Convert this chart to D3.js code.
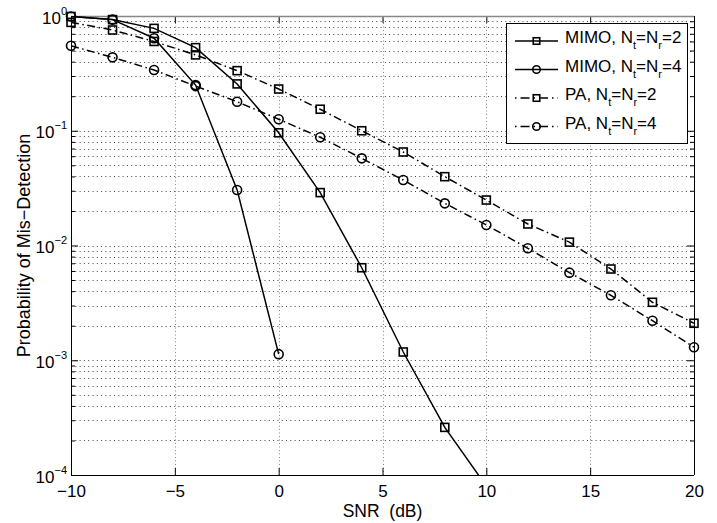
<!DOCTYPE html>
<html><head><meta charset="utf-8">
<script src="https://cdn.jsdelivr.net/npm/d3@7"></script>
<style>
html,body{margin:0;padding:0;background:#fff;}
text{font-family:"Liberation Sans",Arial,Helvetica,sans-serif;fill:#000;}
</style></head>
<body>
<svg id="chart" width="717" height="523"></svg>
<script>
const snr = [-10,-8,-6,-4,-2,0,2,4,6,8,10,12,14,16,18,20];
const mimo2 = [0.99,0.93,0.78,0.53,0.256,0.096,0.0289,0.0064,0.00118,0.00026,0.00008];
const mimo4 = [0.99,0.93,0.64,0.25,0.0305,0.00113];
const pa2 = [0.88,0.755,0.6,0.458,0.334,0.231,0.154,0.1,0.0653,0.0398,0.0249,0.0154,0.0107,0.00624,0.0032,0.0021];
const pa4 = [0.55,0.436,0.338,0.245,0.179,0.126,0.0877,0.0575,0.0372,0.0233,0.0151,0.00945,0.0058,0.00368,0.00221,0.0013];
const xTicks = [-10,-5,0,5,10,15,20];
const yExponents = [0,-1,-2,-3,-4];
const legendNames = ["MIMO","MIMO","PA","PA"];
const legendN = ["2","4","2","4"];
const xLabel = "SNR  (dB)";
const yLabel = "Probability of Mis\u2212Detection";

const svg = d3.select("#chart");
const m = {l:71,t:16,r:23,b:48};
const W = 717 - m.l - m.r, H = 523 - m.t - m.b;
const x = d3.scaleLinear().domain([-10,20]).range([0,W]);
const y = d3.scaleLog().domain([1e-4,1]).range([H,0]);
const g = svg.append("g").attr("transform",`translate(${m.l},${m.t})`);

const majors = yExponents.map(e=>Math.pow(10,e));
const minors = [];
for (let e=-4;e<0;e++) for (let k=2;k<=9;k++) minors.push(k*Math.pow(10,e));

// grid
g.append("g").selectAll("line").data(minors.concat(majors.filter(v=>v<1 && v>1e-4))).join("line")
  .attr("x1",0).attr("x2",W).attr("y1",d=>Math.round(y(d))+0.5).attr("y2",d=>Math.round(y(d))+0.5)
  .attr("stroke","#444").attr("stroke-width",1).attr("stroke-dasharray","1,3.3");
g.append("g").selectAll("line").data(xTicks.filter(v=>v>-10&&v<20)).join("line")
  .attr("y1",0).attr("y2",H).attr("x1",d=>Math.round(x(d))+0.5).attr("x2",d=>Math.round(x(d))+0.5)
  .attr("stroke","#888").attr("stroke-width",1).attr("stroke-dasharray","1,2.5");

// axes (ticks inward)
const fmtNone = ()=>"";
const bottom = g.append("g").attr("transform",`translate(0,${H})`)
  .call(d3.axisBottom(x).tickValues(xTicks).tickSizeInner(-7).tickSizeOuter(0).tickPadding(12)
    .tickFormat(d=> d<0 ? "\u2212"+Math.abs(d) : ""+d));
bottom.selectAll("text").attr("font-size","17px").attr("dy",null).attr("y",22);
g.append("g").call(d3.axisTop(x).tickValues(xTicks).tickSizeInner(-7).tickSizeOuter(0).tickFormat(fmtNone));
const left = g.append("g")
  .call(d3.axisLeft(y).tickValues(majors).tickSizeInner(-7).tickSizeOuter(0).tickPadding(4).tickFormat(fmtNone));
g.append("g").call(d3.axisLeft(y).tickValues(minors).tickSizeInner(-4).tickSizeOuter(0).tickFormat(fmtNone));
g.append("g").attr("transform",`translate(${W},0)`)
  .call(d3.axisRight(y).tickValues(majors).tickSizeInner(-7).tickSizeOuter(0).tickFormat(fmtNone));
g.append("g").attr("transform",`translate(${W},0)`)
  .call(d3.axisRight(y).tickValues(minors).tickSizeInner(-4).tickSizeOuter(0).tickFormat(fmtNone));
g.selectAll(".domain").remove();
g.selectAll(".tick line").attr("stroke","#000");

// y labels with superscripts
left.selectAll(".tick").each(function(d){
  const t = d3.select(this).append("text").attr("x",-4).attr("y",7).attr("text-anchor","end")
    .attr("font-size","17px").attr("fill","#000");
  const e = Math.round(Math.log10(d));
  t.append("tspan").text("10");
  t.append("tspan").attr("font-size","11px").attr("dy","-9").text(e<0? "\u2212"+Math.abs(e): ""+e);
});

// box
g.append("line").attr("x1",0).attr("x2",W).attr("y1",0.5).attr("y2",0.5).attr("stroke","#888").attr("stroke-width",1.5);
g.append("line").attr("x1",0).attr("x2",W).attr("y1",H+0.5).attr("y2",H+0.5).attr("stroke","#000");
g.append("line").attr("x1",0.5).attr("x2",0.5).attr("y1",0).attr("y2",H).attr("stroke","#000");
g.append("line").attr("x1",W+0.5).attr("x2",W+0.5).attr("y1",0).attr("y2",H).attr("stroke","#000");

// clip
svg.append("defs").append("clipPath").attr("id","clip").append("rect")
  .attr("x",-6).attr("y",-6).attr("width",W+12).attr("height",H+6);

const series = [
  {vals:mimo2, marker:"square", dash:null},
  {vals:mimo4, marker:"circle", dash:null},
  {vals:pa2, marker:"square", dash:"8,3.5,1.5,3.5"},
  {vals:pa4, marker:"circle", dash:"8,3.5,1.5,3.5"}
];
const line = d3.line().x(d=>x(d[0])).y(d=>y(d[1]));
const plot = g.append("g").attr("clip-path","url(#clip)");
g.append("defs").append("clipPath").attr("id","clip2").append("rect").attr("x",0).attr("y",0).attr("width",W).attr("height",H);
function drawMarker(sel, type, cx, cy, size){
  if (type==="square") sel.append("rect").attr("x",cx-size/2).attr("y",cy-size/2).attr("width",size).attr("height",size)
    .attr("fill","none").attr("stroke","#000").attr("stroke-width",1.6);
  else sel.append("circle").attr("cx",cx).attr("cy",cy).attr("r",size/2+0.5)
    .attr("fill","none").attr("stroke","#000").attr("stroke-width",1.6);
}
series.forEach(s=>{
  const pts = s.vals.map((v,i)=>[snr[i],v]);
  plot.append("path").datum(pts).attr("d",line).attr("fill","none").attr("stroke","#000")
    .attr("stroke-width",1.5).attr("stroke-dasharray",s.dash).attr("clip-path","url(#clip2)");
  pts.filter(p=>p[1]>=1e-4).forEach(p=>drawMarker(plot, s.marker, x(p[0]), y(p[1]), 8));
});

// legend
const lg = svg.append("g");
const lx0 = 506, ly0 = 23, lw = 181, lh = 120;
lg.append("rect").attr("x",lx0+0.5).attr("y",ly0+0.5).attr("width",lw).attr("height",lh)
  .attr("fill","#fff").attr("stroke","#000").attr("stroke-width",1);
series.forEach((s,i)=>{
  const by = 43 + i*28.5;
  const ly = by - 2;
  lg.append("line").attr("x1",515).attr("x2",558).attr("y1",ly).attr("y2",ly)
    .attr("stroke","#000").attr("stroke-width",1.5).attr("stroke-dasharray",s.dash ? "1.5,4,9,4" : null);
  drawMarker(lg, s.marker, 536.5, ly, 6.5);
  const t = lg.append("text").attr("x",565).attr("y",by).attr("font-size","17px");
  t.append("tspan").text(legendNames[i]+", N");
  t.append("tspan").attr("font-size","11px").attr("dy",6).text("t");
  t.append("tspan").attr("dy",-6).text("=N");
  t.append("tspan").attr("font-size","11px").attr("dy",6).text("r");
  t.append("tspan").attr("dy",-6).text("="+legendN[i]);
});

// axis labels
svg.append("text").attr("x",m.l+W/2).attr("y",517).attr("text-anchor","middle").attr("font-size","17.5px")
  .style("white-space","pre").attr("xml:space","preserve").text(xLabel);
svg.append("text").attr("transform",`translate(30,${m.t+H/2}) rotate(-90)`).attr("text-anchor","middle")
  .attr("font-size","18px").text(yLabel);
</script>
</body></html>
